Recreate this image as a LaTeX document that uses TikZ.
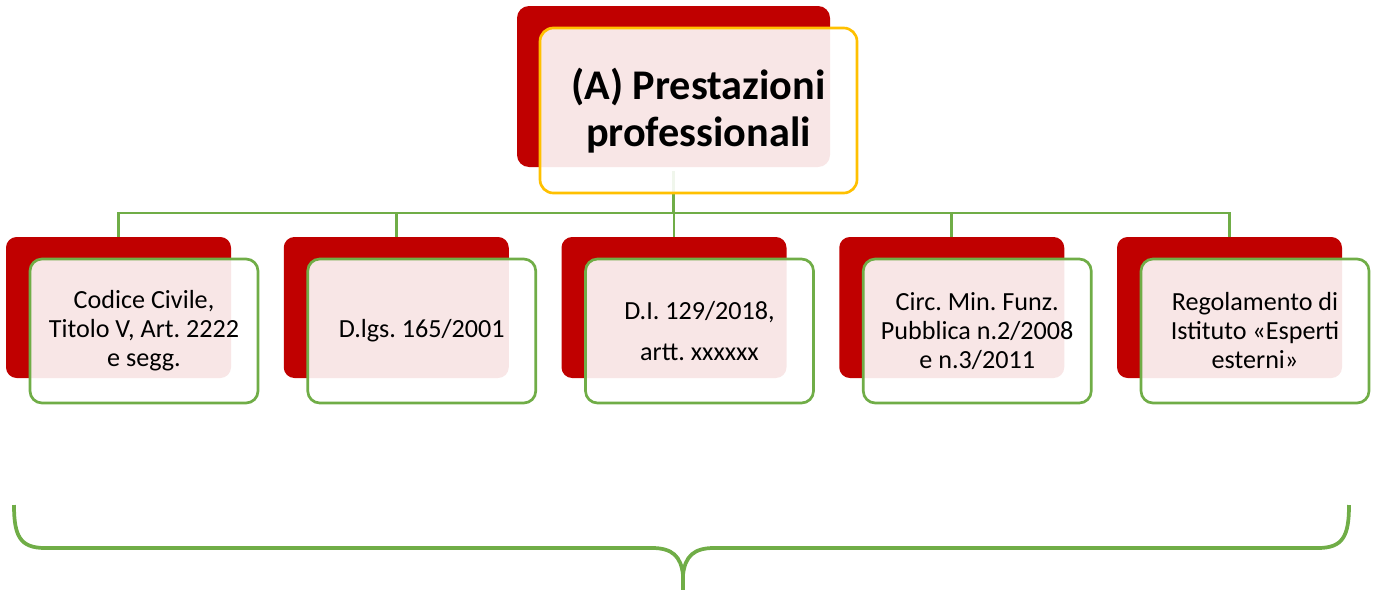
\documentclass[tikz,border=0pt]{standalone}
\usepackage{fontspec}
\setmainfont{Carlito}
\frenchspacing
\definecolor{dred}{HTML}{C00000}
\definecolor{lgreen}{HTML}{70AD47}
\definecolor{gold}{HTML}{FFC000}
\begin{document}
\begin{tikzpicture}[x=0.75pt,y=-0.75pt,
  redbox/.style={fill=dred, rounded corners=8pt, minimum width=168.75pt, minimum height=105.75pt, inner sep=0pt},
  frontbox/.style={draw=lgreen, line width=2pt, fill=white, fill opacity=0.9, text opacity=1, rounded corners=9pt, minimum width=171pt, minimum height=108pt, inner sep=0pt, align=center, font=\fontsize{19.6}{21.75}\selectfont\frenchspacing},
  topred/.style={fill=dred, rounded corners=9pt, minimum width=234.75pt, minimum height=120.75pt, inner sep=0pt},
  topfront/.style={draw=gold, line width=2pt, fill=white, fill opacity=0.9, text opacity=1, rounded corners=10pt, minimum width=237.75pt, minimum height=123.75pt, inner sep=0pt, align=center, font=\fontsize{31.7}{35}\selectfont\bfseries},
  conn/.style={draw=lgreen, line width=2pt},
  bracestyle/.style={draw=lgreen, line width=2.8pt}]
\useasboundingbox (0,0) rectangle (1373,589);
\coordinate (bus) at (673.5,213);
% red back boxes
\node[topred] (tr) at (673.5,86.5) {};
\foreach \i in {1,...,5}{
  \node[redbox] (r\i) at ({118.5+277.75*(\i-1)},307.5) {};
}
% connectors
\foreach \i in {1,...,5}{
  \draw[conn] ([yshift=-3pt]tr.south) |- (bus) -| (r\i.north);
}
% front boxes
\node[topfront] (tf) at (698.5,110.5) {(A) Prestazioni\\professionali};
\node[frontbox] (f1) at (144,331) {Codice Civile,\\Titolo V, Art. 2222\\e segg.};
\node[frontbox] (f2) at ({144+277.75},331) {D.lgs. 165/2001};
\node[frontbox] (f3) at ({144+2*277.75},331) {D.I. 129/2018,\\[9pt]artt. xxxxxx};
\node[frontbox] (f4) at ({144+3*277.75},331) {Circ. Min. Funz.\\Pubblica n.2/2008\\e n.3/2011};
\node[frontbox] (f5) at ({144+4*277.75},331) {Regolamento di\\Istituto «Esperti\\esterni»};
% brace
\draw[bracestyle] (14,505) .. controls (14,536) and (20,548) .. (45,548) -- (652,548) .. controls (672,548) and (681,556) .. (683,575) -- (683,595);
\draw[bracestyle] (1349,505) .. controls (1349,536) and (1343,548) .. (1318,548) -- (714,548) .. controls (694,548) and (685,556) .. (683,575);
\end{tikzpicture}
\end{document}
